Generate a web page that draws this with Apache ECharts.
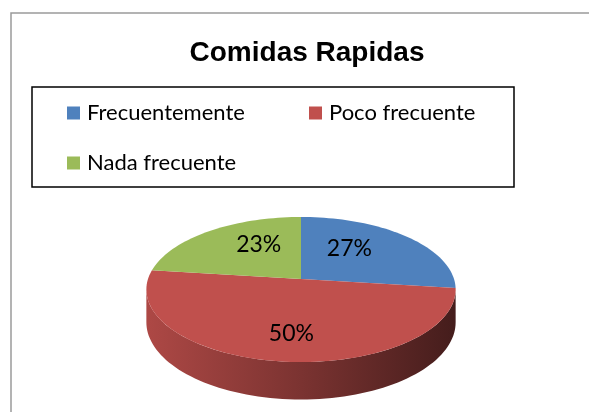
<!DOCTYPE html>
<html>
<head lang="es">
    <meta charset="UTF-8">
    <title>Comidas Rapidas</title>
    <script src="https://cdn.jsdelivr.net/npm/echarts@6/dist/echarts.min.js"></script>
    <style>
        html, body { margin: 0; padding: 0; background: #fff; }
        #container { width: 589px; height: 412px; }
    </style>
</head>
<body>
<div id="container"></div>
<script>
    var categories = ['Frecuentemente', 'Poco frecuente', 'Nada frecuente'];
    var values = [27, 50, 23];
    var colors = ['#4f81bd', '#c0504d', '#9bbb59'];

    // geometria del pastel 3D (elipse con perspectiva + grosor)
    var cx = 301, cy = 279, rx = 153, ry = 71, depth = 32, persp = 0.145;
    var total = values.reduce(function (a, b) { return a + b; }, 0);
    var starts = [], acc = 0;
    values.forEach(function (v) { starts.push(acc / total * 360); acc += v; });

    // punto proyectado: angulo en grados (horario desde arriba), fraccion de radio
    function pt(deg, dy, fx, fy) {
        var t = deg * Math.PI / 180;
        fx = fx == null ? 1 : fx; fy = fy == null ? fx : fy;
        var s = 1 / (1 + persp * fy * Math.cos(t));
        return [cx + rx * fx * Math.sin(t) * s, cy - ry * fy * Math.cos(t) * s + (dy || 0) * s];
    }
    function arc(a0, a1, dy) {
        var pts = [], n = Math.max(2, Math.ceil(Math.abs(a1 - a0) / 2));
        for (var i = 0; i <= n; i++) pts.push(pt(a0 + (a1 - a0) * i / n, dy));
        return pts;
    }
    function shade(hex, f) {
        var n = parseInt(hex.slice(1), 16);
        var r = Math.round(((n >> 16) & 255) * f), g = Math.round(((n >> 8) & 255) * f), b = Math.round((n & 255) * f);
        return 'rgb(' + r + ',' + g + ',' + b + ')';
    }
    // limites de la silueta lateral visible
    var sideA = Math.acos(-persp) * 180 / Math.PI, sideB = 360 - sideA;

    function renderItem(params, api) {
        var i = params.dataIndex;
        var a0 = starts[i], a1 = a0 + api.value(0) / total * 360;
        var color = colors[i];
        var children = [];
        var s = Math.max(a0, sideA), e = Math.min(a1, sideB);
        if (e > s) {
            var side = arc(s, e, 0).concat(arc(e, s, depth));
            children.push({
                type: 'polygon', z2: 1,
                shape: { points: side },
                style: {
                    fill: {
                        type: 'linear', global: true, x: cx - rx, y: 0, x2: cx + rx, y2: 0,
                        colorStops: [
                            { offset: 0, color: shade(color, 0.9) },
                            { offset: 0.5, color: shade(color, 0.64) },
                            { offset: 1, color: shade(color, 0.36) }
                        ]
                    }
                }
            });
        }
        var top = [[cx, cy]].concat(arc(a0, a1, 0));
        children.push({ type: 'polygon', z2: 2, shape: { points: top }, style: { fill: color } });
        var mid = (a0 + a1) / 2;
        var lp = pt(mid, 0, 0.45, 0.7);
        children.push({
            type: 'text', z2: 3, x: lp[0], y: lp[1],
            style: {
                text: Math.round(api.value(0) / total * 100) + '%',
                fill: '#000', font: '23px Lato', align: 'center', verticalAlign: 'middle'
            }
        });
        return { type: 'group', children: children };
    }

    var myChart = echarts.init(document.getElementById('container'));
    myChart.setOption({
        animation: false,
        color: colors,
        title: {
            text: 'Comidas Rapidas',
            left: 302, top: 34, textAlign: 'center',
            textStyle: { fontFamily: 'Liberation Sans', fontWeight: 'bold', fontSize: 28, color: '#000' }
        },
        legend: {
            data: categories,
            left: 67, top: 99, width: 470, padding: 0,
            icon: 'rect', itemWidth: 13, itemHeight: 13, itemGap: 22,
            textStyle: { fontFamily: 'Lato', fontSize: 22, color: '#000', width: 200, lineHeight: 28, padding: [0, 0, 0, 2] }
        },
        graphic: [
            { type: 'rect', shape: { x: 11, y: 13, width: 620, height: 430 }, style: { fill: 'none', stroke: '#9a9a9a', lineWidth: 1.5 } },
            { type: 'rect', shape: { x: 32, y: 87, width: 482, height: 100 }, style: { fill: 'none', stroke: '#000', lineWidth: 1.5 } }
        ],
        series: [
            {
                // serie oculta solo para la leyenda
                type: 'pie', center: [-200, -200], radius: 1, silent: true,
                label: { show: false }, labelLine: { show: false },
                data: categories.map(function (c, i) { return { name: c, value: values[i] }; })
            },
            {
                type: 'custom', coordinateSystem: 'none', silent: true,
                renderItem: renderItem,
                data: values.map(function (v) { return [v]; })
            }
        ]
    });
</script>
</body>
</html>
